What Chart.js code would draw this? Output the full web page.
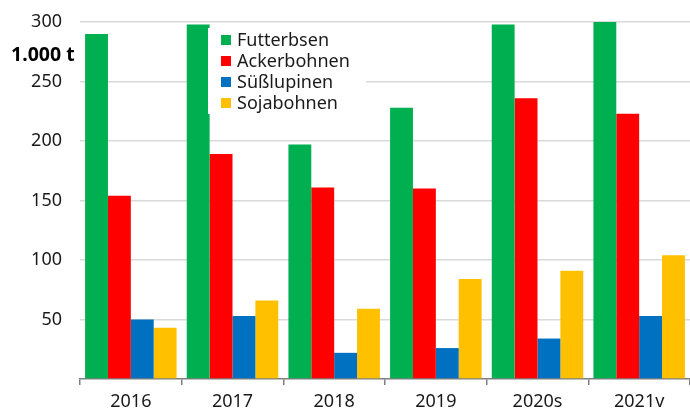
<!DOCTYPE html>
<html><head><meta charset="utf-8">
<script src="https://cdn.jsdelivr.net/npm/chart.js@4/dist/chart.umd.min.js"></script>
<style>html,body{margin:0;padding:0;background:#fff}#wrap{width:690px;height:412px}</style>
</head><body><div id="wrap"><canvas id="c" width="690" height="412"></canvas></div>
<script>
const categories = ["2016","2017","2018","2019","2020s","2021v"];
const futterbsen = [290, 298, 197, 228, 298, 300];
const ackerbohnen = [154, 189, 161, 160, 236, 223];
const suesslupinen = [50, 53, 22, 26, 34, 53];
const sojabohnen = [43, 66, 59, 84, 91, 104];
const seriesNames = ["Futterbsen","Ackerbohnen","Süßlupinen","Sojabohnen"];
const seriesColors = ["#00B050","#FF0000","#0070C0","#FFC000"];
const yTicks = [50,100,150,200,250,300];
const unitLabel = "1.000 t";
const FONT = "'Noto Sans', 'Open Sans', sans-serif";

const overlay = {
  id: 'overlay',
  afterDraw(chart) {
    const ctx = chart.ctx;
    ctx.save();
    ctx.fillStyle = '#000';
    ctx.font = "bold 19.5px " + FONT;
    ctx.textBaseline = 'middle';
    ctx.textAlign = 'left';
    ctx.fillText(unitLabel, 11, 55);
    ctx.fillStyle = '#fff';
    ctx.fillRect(208, 28, 158, 86);
    ctx.font = "18px " + FONT;
    seriesNames.forEach((n, i) => {
      const cy = 40 + i * 21;
      ctx.fillStyle = seriesColors[i];
      ctx.fillRect(221, cy - 5, 10, 10);
      ctx.fillStyle = '#1a1a1a';
      ctx.fillText(n, 237, cy + 1);
    });
    ctx.restore();
  }
};

const data = {
  labels: categories,
  datasets: [futterbsen, ackerbohnen, suesslupinen, sojabohnen].map((d, i) => ({
    label: seriesNames[i], data: d, backgroundColor: seriesColors[i],
    borderWidth: 0, categoryPercentage: 0.9, barPercentage: 1.0
  }))
};

new Chart(document.getElementById('c'), {
  type: 'bar',
  data,
  options: {
    responsive: false, animation: false,
    layout: { padding: { top: 22, right: 0, left: 0, bottom: 0 } },
    plugins: { legend: { display: false }, tooltip: { enabled: false } },
    scales: {
      x: {
        afterFit(s) { s.height = 33; s.paddingLeft = 0; s.paddingRight = 0; },
        grid: { offset: true, drawOnChartArea: false, drawTicks: true, tickLength: 6, color: '#7f7f7f', lineWidth: 1.5 },
        border: { display: true, color: '#7f7f7f', width: 1.5 },
        ticks: { color: '#1a1a1a', font: { family: FONT, size: 18 }, padding: 6 }
      },
      y: {
        min: 0, max: 300,
        afterFit(s) { s.width = 80; s.paddingTop = 0; s.paddingBottom = 0; },
        afterBuildTicks(s) { s.ticks = [0].concat(yTicks).map(v => ({ value: v })); },
        grid: { drawTicks: false, color: (c) => c.tick && c.tick.value === 0 ? 'rgba(0,0,0,0)' : '#d9d9d9', lineWidth: 1.5 },
        border: { display: false },
        ticks: { color: '#1a1a1a', font: { family: FONT, size: 18 }, padding: 18,
          callback: (v) => v === 0 ? '' : String(v) }
      }
    }
  },
  plugins: [overlay]
});
</script>
</body></html>
